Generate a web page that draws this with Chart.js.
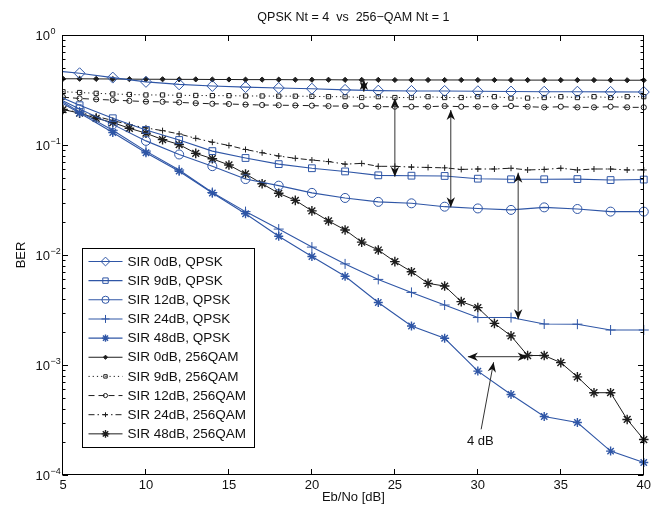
<!DOCTYPE html>
<html lang="en">
<head>
<meta charset="UTF-8">
<title>QPSK Nt = 4 vs 256-QAM Nt = 1</title>
<script src="https://cdn.jsdelivr.net/npm/chart.js"></script>
<style>
  body { margin: 0; background: #fff; }
  #wrap { position: relative; width: 654px; height: 506px; }
</style>
</head>
<body>
<div id="wrap"><canvas id="berChart"></canvas></div>
<script>
// Eb/No grid (dB) - QPSK every 2 dB, 256QAM every 1 dB
const snrQpsk = [4, 6, 8, 10, 12, 14, 16, 18, 20, 22, 24, 26, 28, 30, 32, 34, 36, 38, 40];
const snrQam = [5, 6, 7, 8, 9, 10, 11, 12, 13, 14, 15, 16, 17, 18, 19, 20, 21, 22,
                23, 24, 25, 26, 27, 28, 29, 30, 31, 32, 33, 34, 35, 36, 37, 38, 39, 40];

// BER, QPSK Nt = 4
const berQpsk0  = [0.48, 0.449, 0.41, 0.375, 0.356, 0.344, 0.336, 0.33, 0.325, 0.317, 0.312, 0.31, 0.31, 0.308, 0.306, 0.305, 0.305, 0.304, 0.303];
const berQpsk9  = [0.31, 0.23, 0.175, 0.137, 0.111, 0.088, 0.0762, 0.067, 0.0615, 0.0575, 0.053, 0.0526, 0.0523, 0.0494, 0.0488, 0.0488, 0.049, 0.048, 0.0485];
const berQpsk12 = [0.30, 0.212, 0.154, 0.109, 0.082, 0.0642, 0.049, 0.0427, 0.0367, 0.033, 0.0304, 0.0295, 0.0275, 0.0265, 0.0257, 0.0271, 0.0262, 0.0248, 0.0248];
const berQpsk24 = [0.30, 0.20, 0.136, 0.088, 0.0593, 0.037, 0.0248, 0.0172, 0.0118, 0.0083, 0.006, 0.00457, 0.00351, 0.0027, 0.0027, 0.00236, 0.00235, 0.00208, 0.00208];
const berQpsk48 = [0.29, 0.195, 0.13, 0.085, 0.0578, 0.0366, 0.0237, 0.0148, 0.0097, 0.0064, 0.0037, 0.00226, 0.00175, 0.00088, 0.00054, 0.00034, 0.0003, 0.000165, 0.00013];

// BER, 256QAM Nt = 1
const berQam0  = [0.40, 0.40, 0.399, 0.398, 0.397, 0.396, 0.396, 0.395, 0.395, 0.394, 0.394, 0.393, 0.393, 0.393, 0.392, 0.392, 0.392, 0.391,
                  0.391, 0.391, 0.39, 0.39, 0.39, 0.39, 0.39, 0.39, 0.39, 0.389, 0.389, 0.389, 0.389, 0.389, 0.389, 0.388, 0.388, 0.388];
const berQam9  = [0.305, 0.30, 0.295, 0.291, 0.288, 0.285, 0.285, 0.283, 0.282, 0.281, 0.281, 0.279, 0.279, 0.278, 0.278, 0.277, 0.275, 0.275,
                  0.27, 0.275, 0.27, 0.27, 0.275, 0.27, 0.27, 0.275, 0.275, 0.267, 0.267, 0.27, 0.275, 0.27, 0.275, 0.27, 0.275, 0.275];
const berQam12 = [0.272, 0.265, 0.26, 0.256, 0.252, 0.248, 0.247, 0.244, 0.24, 0.237, 0.236, 0.233, 0.231, 0.23, 0.229, 0.228, 0.226, 0.226,
                  0.226, 0.223, 0.223, 0.223, 0.223, 0.226, 0.223, 0.223, 0.223, 0.226, 0.223, 0.22, 0.223, 0.22, 0.22, 0.223, 0.22, 0.22];
const berQam24 = [0.21, 0.198, 0.182, 0.167, 0.153, 0.143, 0.135, 0.126, 0.115, 0.106, 0.099, 0.091, 0.085, 0.0794, 0.0757, 0.073, 0.0707, 0.067,
                  0.068, 0.064, 0.064, 0.063, 0.0625, 0.062, 0.060, 0.0605, 0.0605, 0.0615, 0.0593, 0.060, 0.0615, 0.0593, 0.0605, 0.0605, 0.0593, 0.0593];
const berQam48 = [0.21, 0.195, 0.175, 0.16, 0.142, 0.128, 0.112, 0.101, 0.084, 0.075, 0.0658, 0.0545, 0.0445, 0.0364, 0.0314, 0.0252, 0.0204, 0.0169,
                  0.0131, 0.0111, 0.0087, 0.00705, 0.00552, 0.00522, 0.00377, 0.00332, 0.00239, 0.00184, 0.00122, 0.00122, 0.00105, 0.00078, 0.00056, 0.00056, 0.00032, 0.00021];

const seriesLabels = ['SIR 0dB, QPSK', 'SIR 9dB, QPSK', 'SIR 12dB, QPSK', 'SIR 24dB, QPSK', 'SIR 48dB, QPSK',
                      'SIR 0dB, 256QAM', 'SIR 9dB, 256QAM', 'SIR 12dB, 256QAM', 'SIR 24dB, 256QAM', 'SIR 48dB, 256QAM'];

// axis ticks
const xTicks = [5, 10, 15, 20, 25, 30, 35, 40];
const yDecades = [1, 0.1, 0.01, 0.001, 0.0001];
const yExponents = ['0', '\u22121', '\u22122', '\u22123', '\u22124'];
const yMinor = [2, 3, 4, 5, 6, 7, 8, 9];

// annotation arrows in data units (heads: 1 = at end only, 2 = both ends)
const arrows = [
  { x1: 23.13, y1: 0.39, x2: 23.13, y2: 0.305, heads: 2 },
  { x1: 25.0, y1: 0.266, x2: 25.0, y2: 0.0515, heads: 2 },
  { x1: 28.37, y1: 0.208, x2: 28.37, y2: 0.0271, heads: 2 },
  { x1: 32.43, y1: 0.056, x2: 32.43, y2: 0.0026, heads: 2 },
  { x1: 29.4, y1: 0.00119, x2: 33.0, y2: 0.00119, heads: 2 },
  { x1: 30.2, y1: 0.00026, x2: 30.95, y2: 0.00106, heads: 1 }
];
const noteText = '4 dB';
const noteAt = { x: 30.15, y: 0.0002 };

const titleText = 'QPSK Nt = 4  vs  256\u2212QAM Nt = 1';
const FONT = '"Liberation Sans", Arial, Helvetica, sans-serif';
const blue = '#2f56a6';
const black = '#1e1e1e';

function pts(xs, ys) {
  return xs.map((x, i) => ({ x: x, y: ys[i] }));
}

function series(label, xs, ys, color, style, radius, dash, fill) {
  return {
    label: label,
    data: pts(xs, ys),
    showLine: true,
    borderColor: color,
    borderWidth: color === blue ? 1.1 : 1,
    borderDash: dash,
    pointStyle: style,
    pointRadius: radius,
    pointHoverRadius: radius,
    pointBorderColor: color,
    pointBackgroundColor: fill || 'rgba(0,0,0,0)',
    pointBorderWidth: style === 'star' ? 1.4 : 1,
    tension: 0,
    clip: { left: 0, top: 8, right: 8, bottom: 8 }
  };
}

const datasets = [
  series(seriesLabels[0], snrQpsk, berQpsk0, blue, 'rectRot', 5.5, []),
  series(seriesLabels[1], snrQpsk, berQpsk9, blue, 'rect', 4.8, []),
  series(seriesLabels[2], snrQpsk, berQpsk12, blue, 'circle', 4.5, []),
  series(seriesLabels[3], snrQpsk, berQpsk24, blue, 'cross', 5, []),
  series(seriesLabels[4], snrQpsk, berQpsk48, blue, 'star', 4.5, []),
  series(seriesLabels[5], snrQam, berQam0, black, 'rectRot', 2.6, [], black),
  series(seriesLabels[6], snrQam, berQam9, black, 'rect', 3, [1.2, 3]),
  series(seriesLabels[7], snrQam, berQam12, black, 'circle', 2.6, [6, 4]),
  series(seriesLabels[8], snrQam, berQam24, black, 'cross', 3, [6, 3, 1.5, 3]),
  series(seriesLabels[9], snrQam, berQam48, black, 'star', 4.8, [])
];

function line(ctx, x1, y1, x2, y2) {
  ctx.beginPath(); ctx.moveTo(x1, y1); ctx.lineTo(x2, y2); ctx.stroke();
}

// inward ticks, box and 10^n labels like MATLAB
const axesBox = {
  id: 'axesBox',
  afterDatasetsDraw(chart) {
    const { ctx, chartArea: ca, scales: { x, y } } = chart;
    const L = Math.round(ca.left) - 0.5, R = Math.round(ca.right) - 0.5;
    const T = Math.round(ca.top) + 0.5, B = Math.round(ca.bottom) - 0.5;
    ctx.save();
    ctx.strokeStyle = '#000';
    ctx.lineWidth = 1;
    ctx.setLineDash([]);
    ctx.strokeRect(L, T, R - L, B - T);
    xTicks.forEach(v => {
      const px = Math.round(x.getPixelForValue(v)) - 0.5;
      line(ctx, px, B, px, B - 5.5);
      line(ctx, px, T, px, T + 5.5);
    });
    yDecades.forEach((d, i) => {
      const py = Math.round(y.getPixelForValue(d)) + 0.5;
      line(ctx, L, py, L + 5.5, py);
      line(ctx, R, py, R - 5.5, py);
      if (i < yDecades.length - 1) {
        yMinor.forEach(m => {
          const qy = Math.round(y.getPixelForValue(d * m / 10)) + 0.5;
          line(ctx, L, qy, L + 3, qy);
          line(ctx, R, qy, R - 3, qy);
        });
      }
    });
    ctx.restore();
  },
  afterDraw(chart) {
    const { ctx, chartArea: ca, scales: { y } } = chart;
    ctx.save();
    ctx.fillStyle = '#111';
    ctx.textBaseline = 'alphabetic';
    yDecades.forEach((d, i) => {
      const py = y.getPixelForValue(d);
      ctx.font = '13px ' + FONT;
      ctx.textAlign = 'right';
      ctx.fillText('10', 50, py + 5);
      ctx.font = '9px ' + FONT;
      ctx.textAlign = 'left';
      ctx.fillText(yExponents[i], 50.5, py - 1);
    });
    ctx.font = '12.5px ' + FONT;
    ctx.textAlign = 'center';
    ctx.textBaseline = 'middle';
    ctx.fillText(titleText, (ca.left + ca.right) / 2, 18);
    ctx.restore();
  }
};

function arrowHead(ctx, tx, ty, ux, uy) {
  const len = 10, half = 4.2, notch = 3;
  const px = -uy, py = ux;
  ctx.beginPath();
  ctx.moveTo(tx, ty);
  ctx.lineTo(tx - ux * len + px * half, ty - uy * len + py * half);
  ctx.lineTo(tx - ux * (len - notch), ty - uy * (len - notch));
  ctx.lineTo(tx - ux * len - px * half, ty - uy * len - py * half);
  ctx.closePath();
  ctx.fill();
}

const arrowNotes = {
  id: 'arrowNotes',
  afterDatasetsDraw(chart) {
    const { ctx, scales: { x, y } } = chart;
    ctx.save();
    ctx.strokeStyle = '#333';
    ctx.fillStyle = '#111';
    ctx.lineWidth = 1;
    ctx.setLineDash([]);
    arrows.forEach(a => {
      const x1 = x.getPixelForValue(a.x1), y1 = y.getPixelForValue(a.y1);
      const x2 = x.getPixelForValue(a.x2), y2 = y.getPixelForValue(a.y2);
      const dx = x2 - x1, dy = y2 - y1, n = Math.hypot(dx, dy);
      const ux = dx / n, uy = dy / n;
      line(ctx, x1, y1, x2, y2);
      arrowHead(ctx, x2, y2, ux, uy);
      if (a.heads === 2) arrowHead(ctx, x1, y1, -ux, -uy);
    });
    ctx.font = '13px ' + FONT;
    ctx.fillStyle = '#111';
    ctx.textAlign = 'center';
    ctx.textBaseline = 'middle';
    ctx.fillText(noteText, x.getPixelForValue(noteAt.x), y.getPixelForValue(noteAt.y));
    ctx.restore();
  }
};

// legend box inside the axes, lower left
const boxLegend = {
  id: 'boxLegend',
  afterDraw(chart) {
    const { ctx, chartArea: ca } = chart;
    const w = 172, h = 199;
    const left = Math.round(ca.left + 19) + 0.5;
    const top = Math.round(ca.bottom - 28 - h) + 0.5;
    ctx.save();
    ctx.fillStyle = '#fff';
    ctx.fillRect(left, top, w, h);
    ctx.strokeStyle = '#000';
    ctx.lineWidth = 1;
    ctx.strokeRect(left, top, w, h);
    chart.data.datasets.forEach((ds, i) => {
      const yy = top + 13 + i * 19.15;
      ctx.setLineDash(ds.borderDash || []);
      ctx.strokeStyle = ds.borderColor;
      ctx.lineWidth = ds.borderWidth;
      line(ctx, left + 6, yy, left + 40, yy);
      ctx.setLineDash([]);
      ctx.strokeStyle = ds.pointBorderColor;
      ctx.fillStyle = ds.pointBackgroundColor;
      ctx.lineWidth = ds.pointBorderWidth;
      Chart.helpers.drawPoint(ctx, {
        pointStyle: ds.pointStyle,
        radius: ds.pointRadius * 0.8,
        rotation: 0,
        borderWidth: ds.pointBorderWidth
      }, left + 23, yy);
      ctx.fillStyle = '#111';
      ctx.font = '13.5px ' + FONT;
      ctx.textAlign = 'left';
      ctx.textBaseline = 'middle';
      ctx.fillText(ds.label, left + 45, yy + 0.5);
    });
    ctx.restore();
  }
};

new Chart(document.getElementById('berChart'), {
  type: 'scatter',
  data: { datasets: datasets },
  options: {
    responsive: true,
    maintainAspectRatio: false,
    animation: false,
    events: [],
    layout: { padding: { top: 35, right: 10, left: 0, bottom: 0 } },
    plugins: {
      legend: { display: false },
      tooltip: { enabled: false },
      title: { display: false }
    },
    scales: {
      x: {
        type: 'linear',
        min: 5,
        max: 40,
        afterFit: s => { s.height = 31; },
        grid: { display: false, drawTicks: false },
        border: { display: false },
        ticks: {
          stepSize: 5,
          autoSkip: false,
          maxRotation: 0,
          padding: 3,
          color: '#111',
          font: { size: 13, family: FONT }
        },
        title: {
          display: true,
          text: 'Eb/No [dB]',
          color: '#111',
          font: { size: 13, family: FONT },
          padding: { top: 0, bottom: 1 }
        }
      },
      y: {
        type: 'logarithmic',
        min: 0.0001,
        max: 1,
        afterFit: s => { s.width = 63; },
        grid: { display: false, drawTicks: false },
        border: { display: false },
        ticks: { display: false },
        title: {
          display: true,
          text: 'BER',
          color: '#111',
          font: { size: 13, family: FONT },
          padding: { top: 14, bottom: 0 }
        }
      }
    }
  },
  plugins: [axesBox, arrowNotes, boxLegend]
});
</script>
</body>
</html>
